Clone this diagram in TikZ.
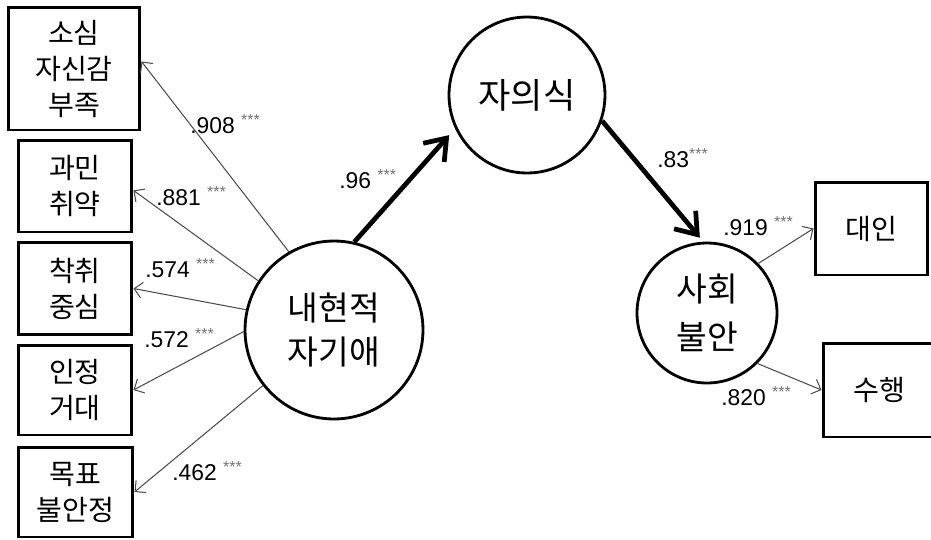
\documentclass[tikz,border=0pt]{standalone}
\usepackage{fontspec}
\setmainfont{Liberation Sans}
\newfontfamily\kor{Noto Sans CJK KR}
\usetikzlibrary{arrows.meta, positioning}
\newcommand{\pstar}{\textsuperscript{\color{black!55}***}}

\begin{document}
\begin{tikzpicture}[x=0.02cm, y=-0.02cm,
    indicator/.style={draw, line width=1.7pt, inner sep=0pt, align=center, font=\kor\fontsize{16}{20.5}\selectfont},
    factor/.style={draw, circle, line width=1.6pt, inner sep=0pt, align=center},
    loading/.style={-{Straight Barb[length=4.5pt, width=9pt]}, line width=0.6pt, black!70},
    effect/.style={-{Straight Barb[length=11pt, width=16pt]}, line width=2.7pt},
    coef/.style={anchor=base west, inner sep=0pt, font=\fontsize{13}{15}\selectfont}]
    \useasboundingbox (0,0) rectangle (931,539);

    % Indicators of covert narcissism
    \node[indicator, minimum width=2.64cm, minimum height=2.46cm] (sosim) at (74,68.5) {소심\\자신감\\부족};
    \node[indicator, minimum width=2.28cm, minimum height=1.84cm] (gwamin) at (75,186) {과민\\취약};
    \node[indicator, minimum width=2.28cm, minimum height=1.84cm] (chakchwi) at (75,288.5) {착취\\중심};
    \node[indicator, minimum width=2.28cm, minimum height=1.8cm] (injeong) at (75,390) {인정\\거대};
    \node[indicator, minimum width=2.3cm, minimum height=1.8cm] (mokpyo) at (75.5,492) {목표\\불안정};

    % Latent factors
    \node[factor, minimum size=3.56cm, font=\kor\fontsize{19}{25.5}\selectfont] (naehyeon) at (334,330) {내현적\\자기애};
    \node[factor, minimum size=3.12cm, font=\kor\fontsize{20}{26}\selectfont] (jauisik) at (527,95) {자의식};
    \node[factor, minimum size=2.8cm, font=\kor\fontsize{19}{27}\selectfont] (sahoe) at (707,313) {사회\\불안};

    % Indicators of social anxiety
    \node[indicator, minimum width=2.26cm, minimum height=1.86cm] (daein) at (871.5,228.5) {대인};
    \node[indicator, minimum width=2.26cm, minimum height=1.88cm] (suhaeng) at (879.5,390) {수행};

    % Loadings
    \draw[loading] (naehyeon.120) -- ([yshift=4pt]sosim.east);
    \draw[loading] (naehyeon.147) -- ([yshift=-2.5pt]gwamin.east);
    \draw[loading] (naehyeon.167) -- (chakchwi.east);
    \draw[loading] (naehyeon.181) -- (injeong.east);
    \draw[loading] (naehyeon.218) -- (mokpyo.east);
    \draw[loading] (sahoe.44) -- (daein.west);
    \draw[loading] (sahoe.-45) -- (suhaeng.west);

    % Paths
    \draw[effect, shorten >=5pt] (naehyeon.77) -- (jauisik.205);
    \draw[effect, shorten >=3pt] (jauisik.-19) -- (sahoe.93);

    % Coefficients
    \node[coef] (k1) at (190,133) {.908 \pstar};
    \node[coef] (k2) at (156,205) {.881 \pstar};
    \node[coef] (k3) at (145,277) {.574 \pstar};
    \node[coef] (k4) at (144,347) {.572 \pstar};
    \node[coef] (k5) at (172,480) {.462 \pstar};
    \node[coef] (k6) at (339,188) {.96 \pstar};
    \node[coef] (k7) at (657,167) {.83\pstar};
    \node[coef] (k8) at (723,235) {.919 \pstar};
    \node[coef] (k9) at (721,405) {.820 \pstar};
\end{tikzpicture}
\end{document}
